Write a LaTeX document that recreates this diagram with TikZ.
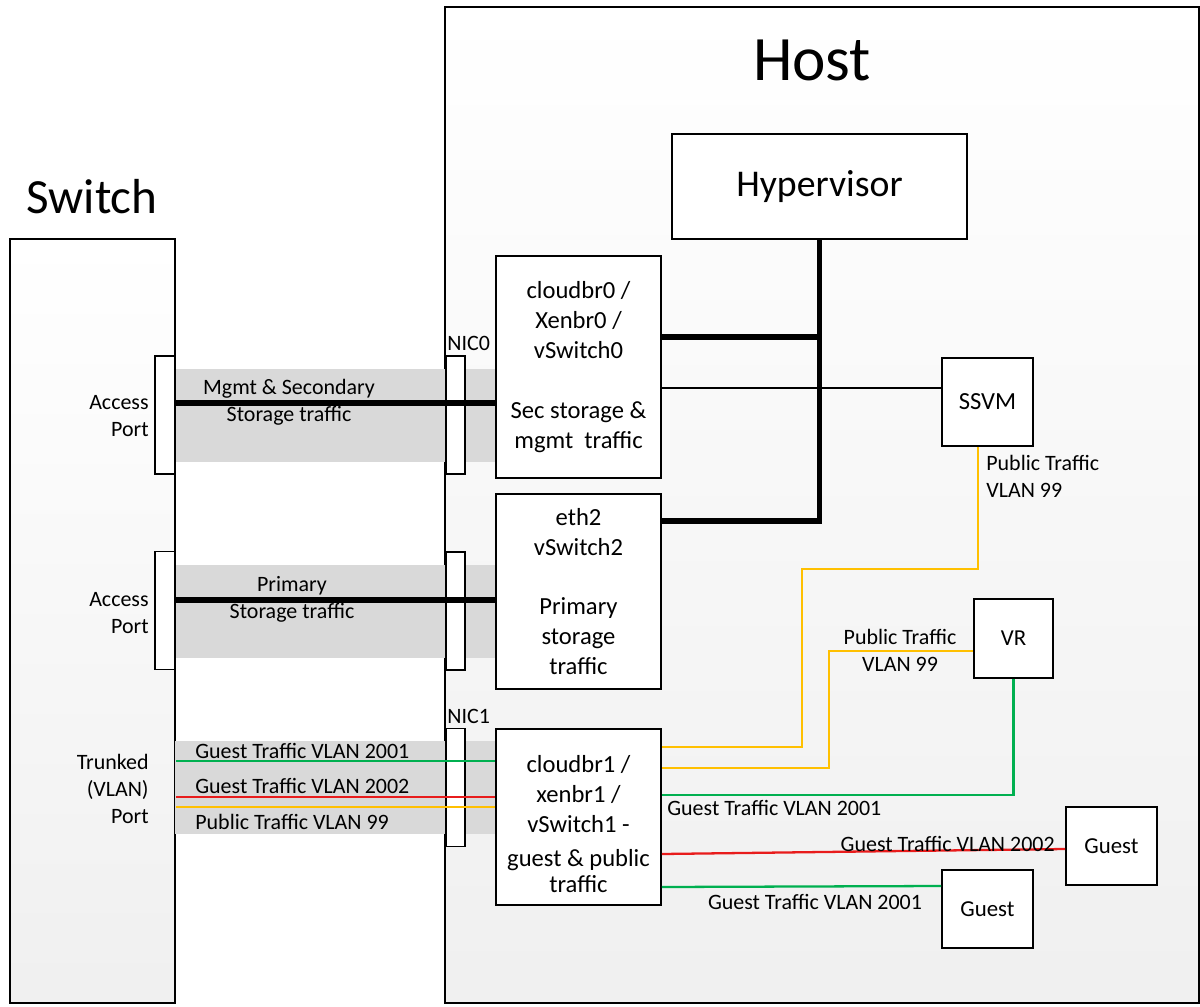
\documentclass[tikz,border=0pt]{standalone}
\usepackage{fontspec}
\setmainfont{Carlito}
\definecolor{vgreen}{RGB}{0,176,80}
\definecolor{vred}{RGB}{232,28,28}
\definecolor{vyellow}{RGB}{255,192,0}
\definecolor{bandgray}{RGB}{217,217,217}
\begin{document}
\begin{tikzpicture}[x=0.02cm,y=-0.02cm,
  frame/.style={draw=black, line width=0.9pt, top color=white, bottom color=black!6, inner sep=0pt},
  box/.style={draw=black, line width=1.1pt, fill=white, inner sep=0pt, align=center, font=\fontsize{14}{17}\selectfont},
  port/.style={draw=black, line width=0.9pt, fill=white, inner sep=0pt, minimum height=2.36cm},
  lbl/.style={inner sep=0pt, font=\fontsize{12.5}{15.3}\selectfont},
  band/.style={fill=bandgray, draw=none},
  bus/.style={draw=black, line width=3.4pt, line join=miter},
  thin/.style={draw=black, line width=0.8pt},
  gline/.style={draw=vgreen, line width=1.3pt},
  rline/.style={draw=vred, line width=1.3pt},
  yline/.style={draw=vyellow, line width=1.3pt}]
\useasboundingbox (0,0) rectangle (1200,1007);

% outer frames
\node[frame, minimum width=3.3cm, minimum height=15.28cm] (switch) at (92.5,621) {};
\node[frame, minimum width=15.08cm, minimum height=19.92cm] (host) at (822,505) {};

% gray bands
\fill[band] (175,369) rectangle (496,462);
\fill[band] (175,565) rectangle (496,658);
\fill[band] (175,741) rectangle (496,834);

% ports and NICs
\node[port, minimum width=0.4cm] (port1) at (165,415) {};
\node[port, minimum width=0.4cm] (port2) at (165,610.5) {};
\node[port, minimum width=0.38cm] (nic0) at (455.5,415) {};
\node[port, minimum width=0.38cm] (nicm) at (455.5,611) {};
\node[port, minimum width=0.38cm] (nic1) at (455.5,787.5) {};

% boxes
\node[box, minimum width=5.9cm, minimum height=2.1cm, font=\fontsize{21.5}{25}\selectfont] (hyp) at (819.5,186.5) {Hypervisor};
\node[box, minimum width=3.3cm, minimum height=4.44cm] (br0) at (578.5,367)
  {cloudbr0 /\\Xenbr0 /\\vSwitch0\\[17pt]Sec storage \&\\mgmt\ \ traffic};
\node[box, minimum width=3.3cm, minimum height=3.9cm] (br2) at (578.5,591.5)
  {eth2\\vSwitch2\\[17pt]Primary\\storage\\traffic};
\node[box, minimum width=3.3cm, minimum height=3.52cm] (br1) at (578.5,817) {};
\node[inner sep=0pt, align=center, font=\fontsize{14}{17}\selectfont] (br1text) at (578.5,824)
  {cloudbr1 /\\xenbr1 /\\vSwitch1 -\\[2.3pt]guest \& public\\[-2.3pt]traffic};
\node[box, minimum width=1.82cm, minimum height=1.76cm] (ssvm) at (987.5,402) {SSVM};
\node[box, minimum width=1.58cm, minimum height=1.58cm, font=\fontsize{13}{16}\selectfont] (vr) at (1013.5,638.5) {VR};
\node[box, minimum width=1.82cm, minimum height=1.56cm, font=\fontsize{13}{16}\selectfont] (guesta) at (1111.5,846) {Guest};
\node[box, minimum width=1.82cm, minimum height=1.56cm, font=\fontsize{13}{16}\selectfont] (guestb) at (987.5,909) {Guest};

% level coordinates
\coordinate (y337) at (0,337);
\coordinate (y388) at (0,388);
\coordinate (y403) at (0,403);
\coordinate (y521) at (0,521);
\coordinate (y600) at (0,600);
\coordinate (y747) at (0,747);
\coordinate (y761) at (0,761);
\coordinate (y768) at (0,768);
\coordinate (y795) at (0,795);
\coordinate (y797) at (0,797);
\coordinate (y807) at (0,807);
\coordinate (y849) at (0,849);
\coordinate (y854) at (0,854);
\coordinate (y886) at (0,886);
\coordinate (y887) at (0,887);
\coordinate (s1) at (978,569);
\coordinate (s2) at (802,569);
\coordinate (v1) at (829,651);

% trunk lines from switch
\draw[bus] (port1.east |- y403) -- (br0.west |- y403);
\draw[bus] (port2.east |- y600) -- (br2.west |- y600);
\draw[gline] (switch.east |- y761) -- (br1.west |- y761);
\draw[rline] (switch.east |- y797) -- (br1.west |- y797);
\draw[yline] (switch.east |- y807) -- (br1.west |- y807);

% hypervisor bus
\draw[bus] (hyp.south) -- (hyp.south |- y521) -- (br2.east |- y521);
\draw[bus] (br0.east |- y337) -- (hyp.south |- y337);
\draw[thin] (br0.east |- y388) -- (ssvm.west |- y388);

% public / guest lines
\draw[yline] (s1 |- ssvm.south) -- (s1) -- (s2) -- (s2 |- y747) -- (br1.east |- y747);
\draw[yline] (vr.west |- v1) -- (v1) -- (v1 |- y768) -- (br1.east |- y768);
\draw[gline] (vr.south) -- (vr.south |- y795) -- (br1.east |- y795);
\draw[rline] (br1.east |- y854) -- (guesta.west |- y849);
\draw[gline] (br1.east |- y887) -- (guestb.west |- y886);

% titles
\node[inner sep=0pt, font=\fontsize{36}{40}\selectfont] (thost) at (812,60) {Host};
\node[inner sep=0pt, font=\fontsize{28}{32}\selectfont] (tswitch) at (92,197) {Switch};

% labels
\node[lbl, anchor=west] (lnic0) at (447,343) {NIC0};
\node[lbl, anchor=west] (lnic1) at (447,716) {NIC1};
\node[lbl, align=right, anchor=east] (lacc1) at (149,416) {Access\\Port};
\node[lbl, align=right, anchor=east] (lacc2) at (149,613) {Access\\Port};
\node[lbl, align=right, anchor=east] (ltrunk) at (149,789) {Trunked\\(VLAN)\\Port};
\node[lbl, align=center] (lmgmt) at (289,402) {Mgmt \& Secondary\\Storage traffic};
\node[lbl, align=center] (lprim) at (292,599) {Primary\\Storage traffic};
\node[lbl, anchor=west] (lg1) at (195,751) {Guest Traffic VLAN 2001};
\node[lbl, anchor=west] (lg2) at (195,786) {Guest Traffic VLAN 2002};
\node[lbl, anchor=west] (lp1) at (195,822) {Public Traffic VLAN 99};
\node[lbl, align=left, anchor=west] (lpss) at (986,476.5) {Public Traffic\\VLAN 99};
\node[lbl, align=center] (lpvr) at (900,650) {Public Traffic\\VLAN 99};
\node[lbl, anchor=west] (lgvr) at (667,808) {Guest Traffic VLAN 2001};
\node[lbl, anchor=east] (lgga) at (1055,844) {Guest Traffic VLAN 2002};
\node[lbl] (lggb) at (815,902) {Guest Traffic VLAN 2001};
\end{tikzpicture}
\end{document}
